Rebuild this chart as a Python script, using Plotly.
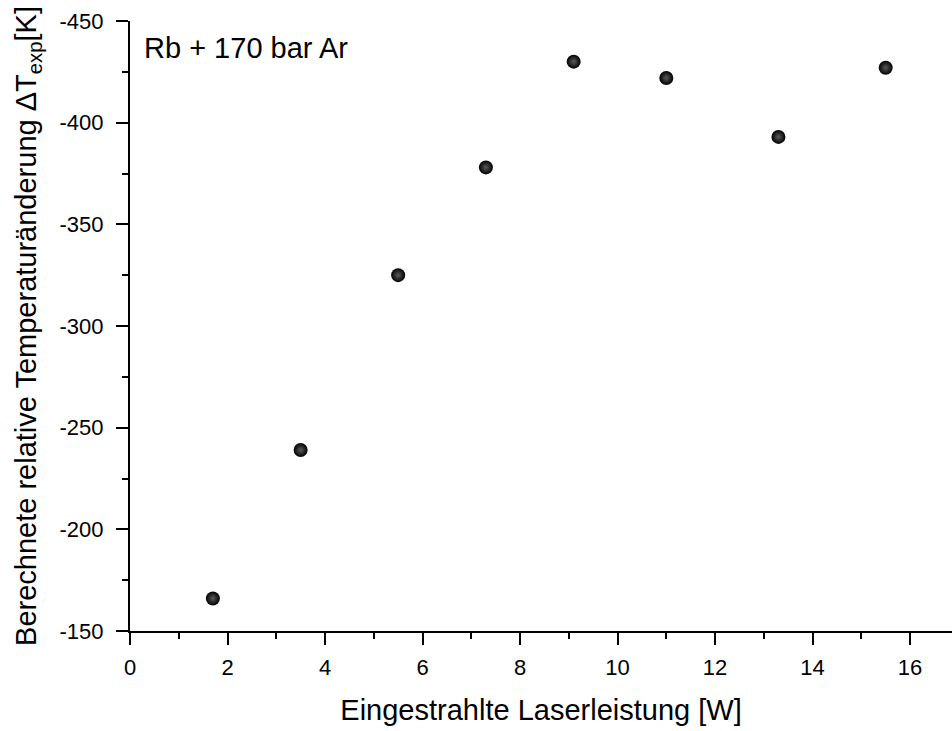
import plotly.graph_objects as go

# Data
laser_power_W = [1.7, 3.5, 5.5, 7.3, 9.1, 11.0, 13.3, 15.5]
delta_T_K = [-166, -239, -325, -378, -430, -422, -393, -427]

x_tickvals = [0, 2, 4, 6, 8, 10, 12, 14, 16]
x_ticktext = ["0", "2", "4", "6", "8", "10", "12", "14", "16"]
y_tickvals = [-150, -200, -250, -300, -350, -400, -450]
y_ticktext = ["-150", "-200", "-250", "-300", "-350", "-400", "-450"]

x_title = "Eingestrahlte Laserleistung [W]"
y_title = "Berechnete relative Temperaturänderung ΔT<sub>exp</sub>[K]"
label_text = "Rb + 170 bar Ar"

FONT = "Arial, Liberation Sans, sans-serif"

fig = go.Figure()
fig.add_trace(go.Scatter(
    x=laser_power_W,
    y=delta_T_K,
    mode="markers",
    marker=dict(
        size=14,
        color="black",
        gradient=dict(type="radial", color="#5a5a5a"),
        line=dict(width=0),
    ),
    showlegend=False,
))

fig.add_annotation(
    text=label_text, xref="paper", yref="paper",
    x=0.015, y=0.955, xanchor="left", yanchor="middle",
    showarrow=False, font=dict(family=FONT, size=29, color="black"),
)

axis_common = dict(
    showgrid=False, zeroline=False,
    showline=True, linecolor="black", linewidth=2,
    ticks="outside", ticklen=12, tickwidth=2, tickcolor="black",
    tickfont=dict(family=FONT, size=22, color="black"),
    mirror=False, automargin=False,
)

fig.update_xaxes(
    **axis_common,
    range=[0, 16.86],
    tickvals=x_tickvals, ticktext=x_ticktext,
    minor=dict(ticks="outside", ticklen=6, tickwidth=2, tickcolor="black", dtick=1, tick0=0),
    title=dict(text=x_title, font=dict(family=FONT, size=29, color="black"), standoff=20),
    ticklabelstandoff=4,
)
fig.update_yaxes(
    **axis_common,
    range=[-150, -450],
    tickvals=y_tickvals, ticktext=y_ticktext,
    minor=dict(ticks="outside", ticklen=6, tickwidth=2, tickcolor="black", dtick=25, tick0=0),
    title=dict(text=y_title, font=dict(family=FONT, size=29, color="black"), standoff=14),
    ticklabelstandoff=8,
)

fig.update_layout(
    width=952, height=731,
    margin=dict(l=130, r=0, t=21, b=100),
    paper_bgcolor="white", plot_bgcolor="white",
    font=dict(family=FONT, color="black"),
)

fig.write_html(
    "out.html",
    config={"displayModeBar": False},
    post_script="document.body.style.margin='0';document.body.style.overflow='hidden';",
)
